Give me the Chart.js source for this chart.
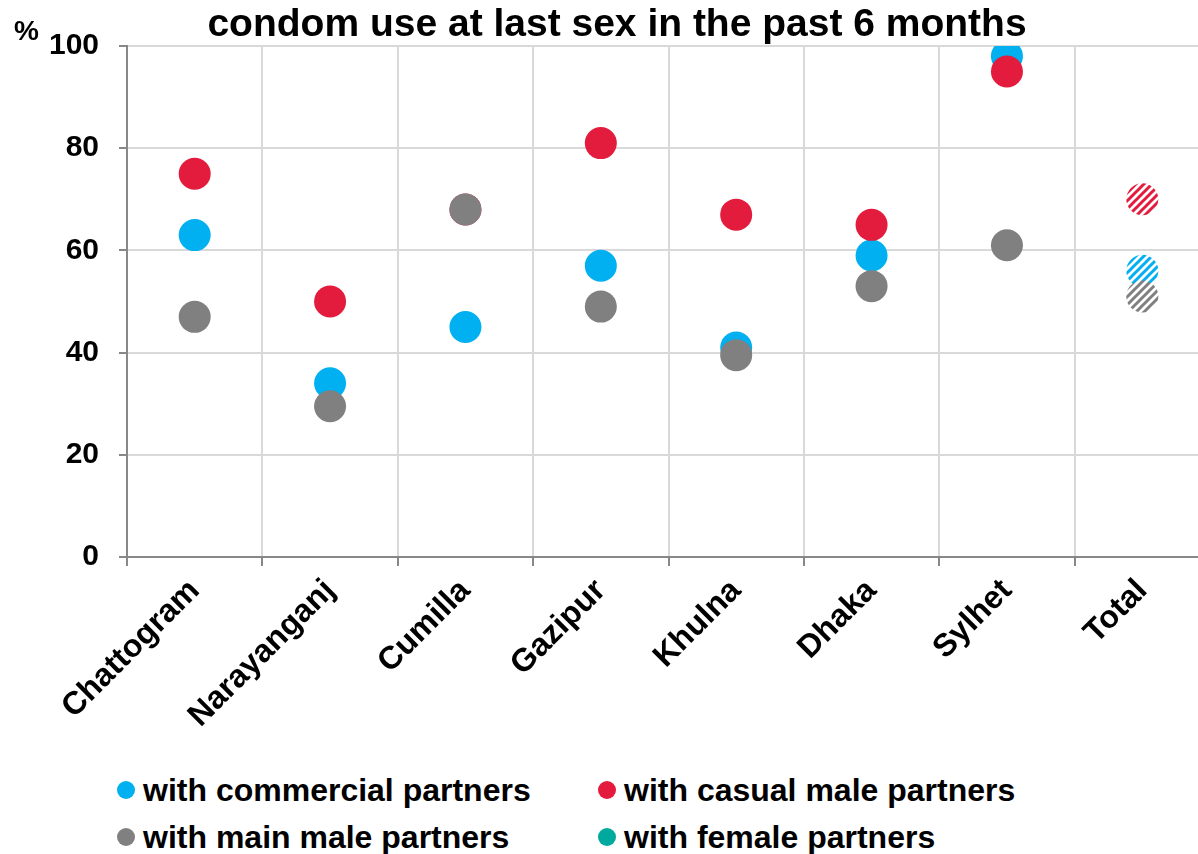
<!DOCTYPE html>
<html lang="en">
  <head>
    <meta charset="UTF-8" />
    <title>condom use at last sex in the past 6 months</title>
    <script src="https://cdn.jsdelivr.net/npm/chart.js@4.4.0/dist/chart.umd.min.js"></script>
    <style>
      html, body { margin: 0; padding: 0; background: #fff; overflow: hidden; width: 1198px; height: 854px; }
      #wrap { position: relative; width: 1198px; height: 854px; overflow: hidden; }
      #myChart { position: absolute; left: 0; top: 0; }
      #legend { position: absolute; left: 0; top: 0; font-family: "Liberation Sans", Arial, sans-serif; font-weight: bold; font-size: 32px; color: #000; }
      .item { position: absolute; white-space: nowrap; line-height: 36px; }
      .dot { position: absolute; width: 18px; height: 18px; border-radius: 50%; top: 9px; left: 0; }
      .item span.t { margin-left: 26px; }
    </style>
  </head>
  <body>
    <div id="wrap">
      <canvas id="myChart" width="1226" height="760"></canvas>
      <div id="legend"></div>
    </div>
    <script>
    const title = 'condom use at last sex in the past 6 months';
    const categories = ['Chattogram', 'Narayanganj', 'Cumilla', 'Gazipur', 'Khulna', 'Dhaka', 'Sylhet', 'Total'];
    const yTicks = [0, 20, 40, 60, 80, 100];

    const seriesNames = ['with commercial partners', 'with casual male partners', 'with main male partners', 'with female partners'];
    const seriesColors = ['#00b0f0', '#e31b3c', '#808080', '#00a99d'];
    const commercial = [63, 34, 45, 57, 41, 59, 98, 56];
    const casual = [75, 50, 68, 81, 67, 65, 95, 70];
    const mainMale = [47, 29.5, 68, 49, 39.5, 53, 61, 51];
    const female = [null, null, null, null, null, null, null, null];
    const hatched = [false, false, false, false, false, false, false, true];

    function makeHatch(color) {
        const c = document.createElement('canvas');
        c.width = 8; c.height = 8;
        const g = c.getContext('2d');
        g.fillStyle = '#fff';
        g.fillRect(0, 0, 8, 8);
        g.strokeStyle = color;
        g.lineWidth = 3;
        g.beginPath();
        g.moveTo(-2, 10); g.lineTo(10, -2);
        g.moveTo(-6, 6); g.lineTo(6, -6);
        g.moveTo(2, 14); g.lineTo(14, 2);
        g.stroke();
        return g.createPattern(c, 'repeat');
    }

    const allData = [commercial, casual, mainMale, female];
    const drawOrder = [2, 1, 0, 3];
    const datasets = allData.map((d, i) => {
        const pat = makeHatch(seriesColors[i]);
        return {
            label: seriesNames[i],
            data: d,
            order: drawOrder[i],
            showLine: false,
            pointRadius: 16,
            pointHoverRadius: 16,
            pointBorderWidth: 0,
            pointBorderColor: 'rgba(0,0,0,0)',
            borderColor: seriesColors[i],
            backgroundColor: seriesColors[i],
            pointBackgroundColor: ctx => hatched[ctx.dataIndex] ? pat : seriesColors[i]
        };
    });

    const font = '"Liberation Sans", Arial, sans-serif';

    const extras = {
        id: 'extras',
        afterDraw(chart) {
            const c = chart.ctx;
            c.save();
            c.fillStyle = '#000';
            c.font = 'bold 39px ' + font;
            c.textAlign = 'center';
            c.textBaseline = 'alphabetic';
            c.fillText(title, 617, 36);
            c.font = 'bold 28px ' + font;
            c.textAlign = 'left';
            c.fillText('%', 14, 40);
            c.restore();
        }
    };

    new Chart(document.getElementById('myChart'), {
        type: 'line',
        data: { labels: categories, datasets: datasets },
        options: {
            responsive: false,
            animation: false,
            layout: { padding: { top: 46, left: 0, right: 0, bottom: 0 } },
            plugins: { legend: { display: false }, tooltip: { enabled: false }, title: { display: false } },
            scales: {
                x: {
                    type: 'category',
                    offset: true,
                    grid: { offset: true, color: '#d9d9d9', lineWidth: 2, tickColor: '#888', tickLength: 9 },
                    border: { color: '#888', width: 2 },
                    ticks: { autoSkip: false, minRotation: 45, maxRotation: 45, padding: 6, color: '#000', font: { family: font, size: 32, weight: 'bold' } },
                    afterFit: s => { s.height = 203; }
                },
                y: {
                    min: 0, max: 100,
                    afterBuildTicks: s => { s.ticks = yTicks.map(v => ({ value: v })); },
                    grid: { color: '#d9d9d9', lineWidth: 2, tickColor: '#888', tickLength: 8 },
                    border: { color: '#888', width: 2 },
                    ticks: { padding: 20, color: '#000', font: { family: font, size: 30, weight: 'bold' } },
                    afterFit: s => { s.width = 127; }
                }
            }
        },
        plugins: [extras]
    });

    // legend, two columns
    const legendPos = [[117, 772], [598, 772], [117, 819], [598, 819]];
    const legendEl = document.getElementById('legend');
    seriesNames.forEach((n, i) => {
        const it = document.createElement('div');
        it.className = 'item';
        it.style.left = legendPos[i][0] + 'px';
        it.style.top = legendPos[i][1] + 'px';
        it.innerHTML = '<div class="dot" style="background:' + seriesColors[i] + '"></div><span class="t">' + n + '</span>';
        legendEl.appendChild(it);
    });
    </script>
  </body>
</html>
